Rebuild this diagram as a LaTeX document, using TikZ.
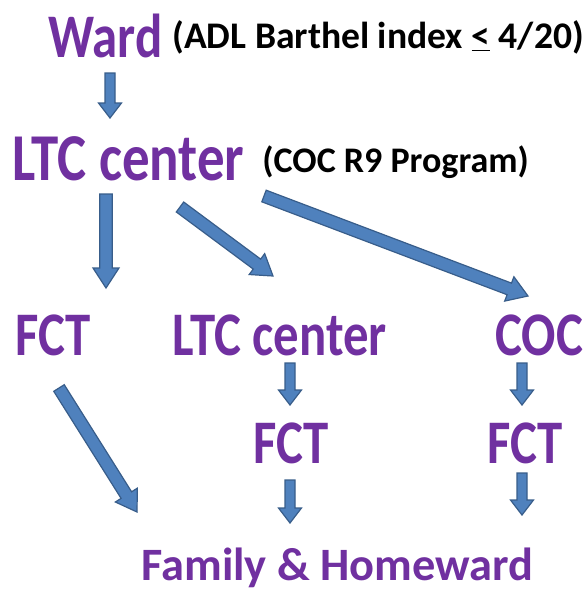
\documentclass[tikz,border=0pt]{standalone}
\usepackage{fontspec}
\setmainfont{Carlito}
\newfontfamily\tallfont{Carlito}[FakeStretch=0.82]
\usetikzlibrary{calc}
\definecolor{wardpurple}{HTML}{7030A0}
\definecolor{arrowblue}{HTML}{4F81BD}
\definecolor{arrowedge}{HTML}{385D8A}
\tikzset{
  big/.style={text=wardpurple, font=\tallfont\bfseries\fontsize{31pt}{34pt}\selectfont, inner sep=0pt, anchor=base west},
  bigger/.style={big, font=\tallfont\bfseries\fontsize{33.5pt}{36pt}\selectfont},
  note/.style={text=black, font=\bfseries\fontsize{18.8pt}{20pt}\selectfont, inner sep=0pt, anchor=base west},
  home/.style={text=wardpurple, font=\bfseries\fontsize{23.2pt}{25pt}\selectfont, inner sep=0pt, anchor=base west},
  blockarrow/.style={fill=arrowblue, draw=arrowedge, line width=0.6pt, line join=miter},
}
% block arrow: tail, tip, half shaft, half head, head length
\newcommand\blockarrow[5]{%
  \coordinate (hb) at ($(#2)!#5!(#1)$);
  \draw[blockarrow] ($(#1)!#3!90:(#2)$) -- ($(hb)!#3!90:(#2)$) -- ($(hb)!#4!90:(#2)$) -- (#2)
    -- ($(hb)!#4!-90:(#2)$) -- ($(hb)!#3!-90:(#2)$) -- ($(#1)!#3!-90:(#2)$) -- cycle;}
\newcommand\smallarrow[2]{\blockarrow{#1}{#2}{2.5pt}{5.75pt}{7.5pt}}
\newcommand\bigarrow[2]{\blockarrow{#1}{#2}{3.1pt}{6.5pt}{10pt}}
\begin{document}
\begin{tikzpicture}[x=0.5pt, y=-0.5pt, line join=round]
\useasboundingbox (0,0) rectangle (588,590);
\node[big]    (ward) at (48,57)   {Ward};
\node[note]   (adl)  at (172,48)  {(ADL Barthel index \underline{<} 4/20)};
\node[bigger] (ltcA) at (12,180)  {LTC center};
\node[note, font=\bfseries\fontsize{18pt}{20pt}\selectfont] (r9) at (262,172) {(COC R9 Program)};
\node[big]    (fctA) at (15,355)  {FCT};
\node[big]    (ltcB) at (172,355) {LTC center};
\node[big]    (coc)  at (495,355) {COC};
\node[big]    (fctB) at (253,463) {FCT};
\node[big]    (fctC) at (487,463) {FCT};
\node[home]   (home) at (141,580) {Family \& Homeward};
% arrow ends
\coordinate (w1) at (110,73);  \coordinate (w2) at (110,118);
\coordinate (l1) at (106,194); \coordinate (l2) at (106,288);
\coordinate (m1) at (180,207); \coordinate (m2) at (273,276);
\coordinate (c1) at (264,196); \coordinate (c2) at (528,296);
\coordinate (f1) at (59,388);  \coordinate (f2) at (137,512);
\coordinate (g1) at (290,363); \coordinate (g2) at (290,405);
\coordinate (k1) at (522,363); \coordinate (k2) at (522,405);
\coordinate (h1) at (290,480); \coordinate (h2) at (290,523);
\coordinate (j1) at (522,473); \coordinate (j2) at (522,515);
\smallarrow{w1}{w2}
\bigarrow{l1}{l2}
\bigarrow{m1}{m2}
\bigarrow{c1}{c2}
\bigarrow{f1}{f2}
\smallarrow{g1}{g2}
\smallarrow{k1}{k2}
\smallarrow{h1}{h2}
\smallarrow{j1}{j2}
\end{tikzpicture}
\end{document}
